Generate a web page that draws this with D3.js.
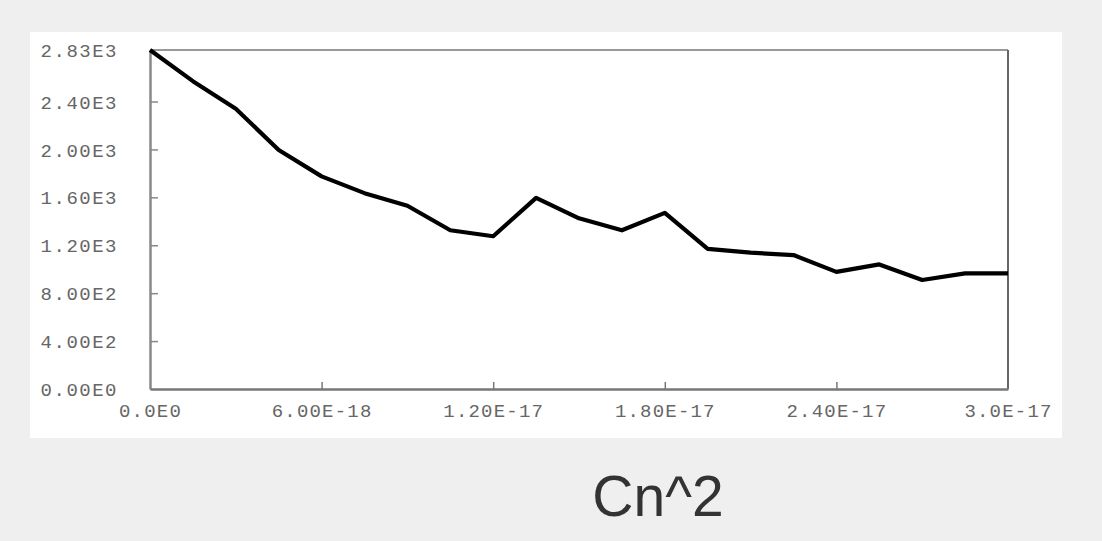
<!DOCTYPE html>
<html><head><meta charset="utf-8">
<script src="https://cdn.jsdelivr.net/npm/d3@7"></script>
<style>html,body{margin:0;padding:0;background:#efefef;}svg{display:block;}</style>
</head><body>
<svg id="c" width="1102" height="541"></svg>
<script>
const xValues = [0,1.5e-18,3e-18,4.5e-18,6e-18,7.5e-18,9e-18,1.05e-17,1.2e-17,1.35e-17,1.5e-17,1.65e-17,1.8e-17,1.95e-17,2.1e-17,2.25e-17,2.4e-17,2.55e-17,2.7e-17,2.85e-17,3e-17];
const yValues = [2830,2570,2340,1995,1775,1635,1530,1325,1275,1595,1425,1325,1470,1170,1138,1118,978,1040,910,965,965];
const yTicks = [0,400,800,1200,1600,2000,2400,2830];
const yTickLabels = ["0.00E0","4.00E2","8.00E2","1.20E3","1.60E3","2.00E3","2.40E3","2.83E3"];
const xTicks = [0,6e-18,1.2e-17,1.8e-17,2.4e-17,3e-17];
const xTickLabels = ["0.0E0","6.00E-18","1.20E-17","1.80E-17","2.40E-17","3.0E-17"];
const title = "Cn^2";

const svg = d3.select("#c");
svg.append("rect").attr("x",30).attr("y",32).attr("width",1032).attr("height",406).attr("fill","#ffffff");

const x = d3.scaleLinear().domain([0,3e-17]).range([150,1008]);
const y = d3.scaleLinear().domain([0,2830]).range([389,50]);

const tickFont = "'Liberation Mono','DejaVu Sans Mono',monospace";

// frame
svg.append("line").attr("x1",150).attr("x2",1008).attr("y1",50).attr("y2",50).attr("stroke","#999").attr("stroke-width",2);
svg.append("line").attr("x1",1008).attr("x2",1008).attr("y1",50).attr("y2",389).attr("stroke","#666").attr("stroke-width",2);

const yAxis = d3.axisLeft(y).tickValues(yTicks).tickSize(-8).tickSizeOuter(0)
  .tickFormat((d,i)=>yTickLabels[i]);
const gy = svg.append("g").attr("transform","translate(150,0)").call(yAxis);
gy.select(".domain").attr("stroke","#888").attr("stroke-width",2.5);
gy.selectAll(".tick line").attr("stroke","#888").attr("stroke-width",1.5);
gy.selectAll(".tick text").attr("x",-32).attr("font-family",tickFont).attr("font-size",19)
  .attr("letter-spacing","1.5px").attr("fill","#666").attr("dy","0.35em");

const xAxis = d3.axisBottom(x).tickValues(xTicks).tickSize(-7).tickSizeOuter(0)
  .tickFormat((d,i)=>xTickLabels[i]);
const gx = svg.append("g").attr("transform","translate(0,389)").call(xAxis);
gx.select(".domain").attr("stroke","#777").attr("stroke-width",2.5);
gx.selectAll(".tick line").attr("stroke","#777").attr("stroke-width",1.5);
gx.selectAll(".tick text").attr("y",21).attr("dy","0.35em").attr("font-family",tickFont).attr("font-size",19)
  .attr("letter-spacing","1.2px").attr("fill","#666");
gx.selectAll(".tick").filter(d=>d===0).select("line").remove();
gx.selectAll(".tick").filter(d=>d===3e-17).select("line").remove();
gy.selectAll(".tick").filter(d=>d===0||d===2830).select("line").remove();

const line = d3.line().x((d,i)=>x(xValues[i])).y(d=>y(d));
svg.append("path").datum(yValues).attr("d",line).attr("fill","none")
  .attr("stroke","#000").attr("stroke-width",4.2).attr("stroke-linejoin","round");

svg.append("text").attr("x",658).attr("y",516).attr("text-anchor","middle")
  .attr("font-family","'Liberation Sans',Arial,sans-serif").attr("font-size",57).attr("fill","#333").text(title);
</script>
</body></html>
